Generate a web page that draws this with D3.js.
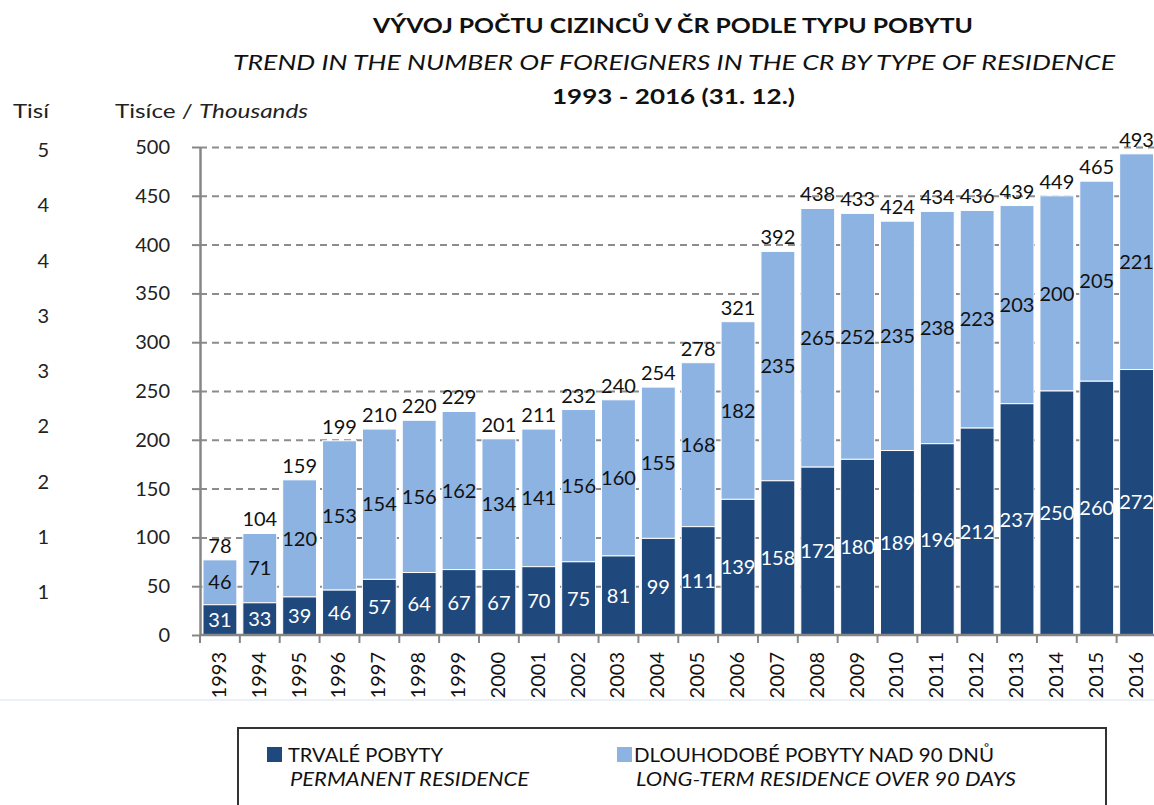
<!DOCTYPE html>
<html>
<head>
<meta charset="utf-8">
<script src="https://cdnjs.cloudflare.com/ajax/libs/d3/7.8.5/d3.min.js"></script>
<style>
  body { margin: 0; background: #fff; }
  svg { display: block; font-family: Lato, "Open Sans", sans-serif; }
</style>
</head>
<body>
<div id="chart"></div>
<script>
// data (thousands)
const years = ['1993','1994','1995','1996','1997','1998','1999','2000','2001','2002','2003','2004',
  '2005','2006','2007','2008','2009','2010','2011','2012','2013','2014','2015','2016'];
const permanent = [31,33,39,46,57,64,67,67,70,75,81,99,111,139,158,172,180,189,196,212,237,250,260,272];
const longTerm = [46,71,120,153,154,156,162,134,141,156,160,155,168,182,235,265,252,235,238,223,203,200,205,221];
const totals = [78,104,159,199,210,220,229,201,211,232,240,254,278,321,392,438,433,424,434,436,439,449,465,493];
const yTicks = [0,50,100,150,200,250,300,350,400,450,500];
// the cut-off column on the far left of the scan
const leftColumn = ['5','4','4','3','3','2','2','1','1'];

const darkBlue = '#1f497d';
const lightBlue = '#8db3e2';

const svg = d3.select('#chart').append('svg')
  .attr('width', 1154)
  .attr('height', 805);

svg.append('rect').attr('width', 1154).attr('height', 805).attr('fill', '#fff');

// scales
const x = d3.scaleBand()
  .domain(years)
  .range([200, 1156.5])
  .paddingInner(0.15)
  .paddingOuter(0.075);

const y = d3.scaleLinear()
  .domain([0, 500])
  .range([635, 147]);

// titles
const titles = [
  { text: 'VÝVOJ POČTU CIZINCŮ V ČR PODLE TYPU POBYTU', x: 373, y: 33, len: 600, weight: 'bold', style: 'normal' },
  { text: 'TREND IN THE NUMBER OF FOREIGNERS IN THE CR BY TYPE OF RESIDENCE', x: 233, y: 70, len: 882, weight: 'normal', style: 'italic' },
  { text: '1993 - 2016 (31. 12.)', x: 552, y: 104, len: 243, weight: 'bold', style: 'normal' }
];
svg.selectAll('.title')
  .data(titles)
  .enter()
  .append('text')
  .attr('class', 'title')
  .attr('x', d => d.x)
  .attr('y', d => d.y)
  .attr('textLength', d => d.len)
  .attr('lengthAdjust', 'spacingAndGlyphs')
  .style('font-size', '21px')
  .style('font-weight', d => d.weight)
  .style('font-style', d => d.style)
  .attr('fill', '#111')
  .text(d => d.text);

// axis title
const axisTitle = svg.append('text')
  .attr('x', 115)
  .attr('y', 118)
  .attr('textLength', 193)
  .attr('lengthAdjust', 'spacingAndGlyphs')
  .style('font-size', '19px')
  .attr('fill', '#222');
axisTitle.append('tspan').text('Tisíce / ');
axisTitle.append('tspan').style('font-style', 'italic').text('Thousands');

// leftover column at the very left
svg.append('text')
  .attr('x', 13)
  .attr('y', 118)
  .attr('textLength', 36)
  .attr('lengthAdjust', 'spacingAndGlyphs')
  .style('font-size', '19px')
  .attr('fill', '#222')
  .text('Tisí');

const leftY = d3.scalePoint()
  .domain(d3.range(leftColumn.length))
  .range([150, 592]);

svg.selectAll('.leftnum')
  .data(leftColumn)
  .enter()
  .append('text')
  .attr('class', 'leftnum')
  .attr('x', 49)
  .attr('y', (d, i) => leftY(i))
  .attr('dy', '0.35em')
  .attr('text-anchor', 'end')
  .style('font-size', '20px')
  .attr('fill', '#222')
  .text(d => d);

// dashed gridlines
svg.append('g')
  .attr('transform', 'translate(200,0)')
  .call(d3.axisLeft(y).tickValues(yTicks.filter(t => t > 0)).tickSize(-954).tickFormat(''))
  .call(g => g.select('.domain').remove())
  .call(g => g.selectAll('line')
    .attr('stroke', '#8c8c8c')
    .attr('stroke-width', 2)
    .attr('stroke-dasharray', '7,5'));

// y axis
svg.append('g')
  .attr('transform', 'translate(200,0)')
  .call(d3.axisLeft(y).tickValues(yTicks).tickSize(8).tickPadding(22).tickSizeOuter(0))
  .call(g => g.select('.domain').attr('stroke', '#868686').attr('stroke-width', 2.5))
  .call(g => g.selectAll('line').attr('stroke', '#868686').attr('stroke-width', 2))
  .call(g => g.selectAll('text')
    .style('font-size', '20px')
    .style('font-family', 'Lato, "Open Sans", sans-serif')
    .attr('fill', '#222'));

// stacked bars
const rows = years.map((yr, i) => ({ year: yr, perm: permanent[i], long: longTerm[i], total: totals[i] }));

const bars = svg.append('g').selectAll('g')
  .data(rows)
  .enter()
  .append('g');

bars.append('rect')
  .attr('x', d => x(d.year))
  .attr('width', x.bandwidth())
  .attr('y', d => y(d.perm + d.long))
  .attr('height', d => y(d.perm) - y(d.perm + d.long))
  .attr('fill', lightBlue)
  .attr('stroke', '#fff')
  .attr('stroke-width', 1);

bars.append('rect')
  .attr('x', d => x(d.year))
  .attr('width', x.bandwidth())
  .attr('y', d => y(d.perm))
  .attr('height', d => y(0) - y(d.perm))
  .attr('fill', darkBlue)
  .attr('stroke', '#fff')
  .attr('stroke-width', 1);

// x axis line and ticks at band boundaries
svg.append('line')
  .attr('x1', 200).attr('x2', 1154)
  .attr('y1', y(0)).attr('y2', y(0))
  .attr('stroke', '#868686')
  .attr('stroke-width', 2.5);

const boundaries = d3.range(years.length + 1).map(i => x.range()[0] + i * x.step());
svg.selectAll('.xtick')
  .data(boundaries)
  .enter()
  .append('line')
  .attr('class', 'xtick')
  .attr('x1', d => d).attr('x2', d => d)
  .attr('y1', y(0)).attr('y2', y(0) + 8)
  .attr('stroke', '#868686')
  .attr('stroke-width', 2);

// year labels, rotated
svg.selectAll('.year')
  .data(years)
  .enter()
  .append('text')
  .attr('class', 'year')
  .attr('transform', d => `translate(${x(d) + x.bandwidth() / 2 - 1},652) rotate(-90)`)
  .attr('text-anchor', 'end')
  .attr('dy', '0.35em')
  .style('font-size', '20px')
  .attr('fill', '#111')
  .text(d => d);

// value labels
const labelSize = '20px';
bars.append('text')
  .attr('x', d => x(d.year) + x.bandwidth() / 2)
  .attr('y', d => (y(0) + y(d.perm)) / 2)
  .attr('dy', '0.36em')
  .attr('text-anchor', 'middle')
  .style('font-size', labelSize)
  .attr('fill', '#fff')
  .text(d => d.perm);

bars.append('text')
  .attr('x', d => x(d.year) + x.bandwidth() / 2)
  .attr('y', d => (y(d.perm) + y(d.perm + d.long)) / 2)
  .attr('dy', '0.36em')
  .attr('text-anchor', 'middle')
  .style('font-size', labelSize)
  .attr('fill', '#111')
  .text(d => d.long);

bars.append('text')
  .attr('x', d => x(d.year) + x.bandwidth() / 2)
  .attr('y', d => y(d.perm + d.long) - 7)
  .attr('text-anchor', 'middle')
  .style('font-size', labelSize)
  .attr('fill', '#111')
  .text(d => d.total);

// faint bottom line of the plot area
svg.append('line')
  .attr('x1', 0).attr('x2', 1154)
  .attr('y1', 700).attr('y2', 700)
  .attr('stroke', '#e3ebf4')
  .attr('stroke-width', 1.5);

// legend box
const legend = svg.append('g');
legend.append('path')
  .attr('d', 'M238,806 L238,728 L1106,728 L1106,806')
  .attr('fill', 'none')
  .attr('stroke', '#333')
  .attr('stroke-width', 2);

const legendItems = [
  { color: darkBlue, sq: 267, tx: 288, cz: 'TRVALÉ POBYTY', czLen: 155, en: 'PERMANENT RESIDENCE', enLen: 239 },
  { color: lightBlue, sq: 617, tx: 634, cz: 'DLOUHODOBÉ POBYTY NAD 90 DNŮ', czLen: 360, en: 'LONG-TERM RESIDENCE OVER 90 DAYS', enLen: 380 }
];

const li = legend.selectAll('.item')
  .data(legendItems)
  .enter()
  .append('g')
  .attr('class', 'item');

li.append('rect')
  .attr('x', d => d.sq)
  .attr('y', 747)
  .attr('width', 15)
  .attr('height', 15)
  .attr('fill', d => d.color);

li.append('text')
  .attr('x', d => d.tx)
  .attr('y', 762)
  .attr('textLength', d => d.czLen)
  .attr('lengthAdjust', 'spacingAndGlyphs')
  .style('font-size', '20px')
  .attr('fill', '#111')
  .text(d => d.cz);

li.append('text')
  .attr('x', d => d.tx + 2)
  .attr('y', 786)
  .attr('textLength', d => d.enLen)
  .attr('lengthAdjust', 'spacingAndGlyphs')
  .style('font-size', '20px')
  .style('font-style', 'italic')
  .attr('fill', '#111')
  .text(d => d.en);
</script>
</body>
</html>
